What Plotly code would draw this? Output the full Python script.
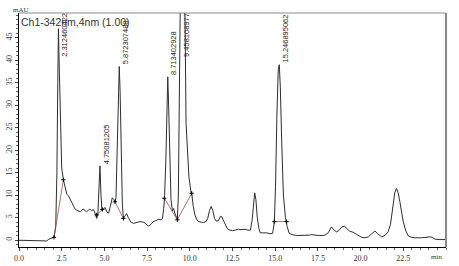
import plotly.graph_objects as go

# chromatogram trace (time in min, absorbance in mAU)
time_min = [0.0, 0.5, 1.0, 1.5, 1.62, 1.75, 1.9, 2.05, 2.15, 2.22, 2.27, 2.31, 2.36, 2.42, 2.5, 2.6,
            2.7, 2.8, 2.9, 3.0, 3.1, 3.2, 3.3, 3.45, 3.6, 3.75, 3.85, 3.95, 4.05, 4.15, 4.25, 4.35,
            4.45, 4.55, 4.62, 4.68, 4.74, 4.8, 4.86, 4.95, 5.05, 5.15, 5.25, 5.35, 5.46, 5.55, 5.62,
            5.68, 5.75, 5.82, 5.87, 5.92, 5.98, 6.05, 6.11, 6.2, 6.3, 6.4, 6.55, 6.7, 6.9, 7.08,
            7.25, 7.38, 7.5, 7.6, 7.75, 7.86, 8.0, 8.16, 8.3, 8.4, 8.47, 8.52, 8.6, 8.66, 8.71,
            8.76, 8.83, 8.9, 8.98, 9.05, 9.12, 9.2, 9.27, 9.33, 9.38, 9.45, 9.62, 9.72, 9.78, 9.85,
            9.95, 10.08, 10.12, 10.2, 10.3, 10.4, 10.5, 10.65, 10.8, 10.95, 11.05, 11.15, 11.25,
            11.35, 11.45, 11.55, 11.67, 11.8, 11.87, 11.95, 12.06, 12.2, 12.35, 12.5, 12.65, 12.84,
            13.0, 13.23, 13.4, 13.55, 13.65, 13.73, 13.8, 13.87, 13.95, 14.05, 14.12, 14.3, 14.5,
            14.7, 14.85, 14.95, 15.02, 15.1, 15.18, 15.24, 15.3, 15.38, 15.48, 15.6, 15.7, 15.82,
            16.0, 16.26, 16.5, 16.74, 17.0, 17.14, 17.35, 17.52, 17.75, 17.92, 18.1, 18.3, 18.45,
            18.6, 18.75, 18.9, 19.05, 19.2, 19.35, 19.57, 19.8, 20.06, 20.25, 20.45, 20.65, 20.84,
            21.0, 21.24, 21.45, 21.62, 21.75, 21.9, 22.0, 22.1, 22.2, 22.3, 22.4, 22.5, 22.65,
            22.8, 23.0, 23.2, 23.58, 23.8, 24.06, 24.2, 24.36, 24.6, 25.0]
signal_mau = [-0.05, -0.1, -0.15, -0.2, -0.2, 0.2, 0.4, 0.6, 3.0, 15.0, 35.0, 47.0, 38.0, 25.0, 16.0, 13.4,
              11.5, 10.2, 9.8, 9.2, 8.3, 7.5, 6.8, 6.5, 6.3, 6.9, 6.5, 6.3, 6.6, 6.9, 6.5, 6.8,
              6.0, 4.8, 6.0, 12.0, 16.5, 10.0, 6.5, 7.0, 7.2, 6.2, 6.0, 7.5, 9.4, 9.0, 8.5,
              9.5, 20.0, 34.0, 38.6, 33.0, 18.0, 8.0, 4.8, 5.5, 5.9, 5.0, 4.0, 3.7, 4.0, 4.1,
              4.0, 3.8, 3.3, 3.1, 3.6, 4.1, 4.3, 4.6, 4.5, 4.8, 7.0, 9.3, 18.0, 30.0, 36.3,
              30.0, 17.0, 9.0, 6.5, 7.0, 6.0, 5.0, 4.6, 10.0, 35.0, 56.0, 56.0, 50.0, 26.0, 21.0,
              14.0, 10.4, 10.2, 7.5, 5.6, 4.6, 4.1, 4.0, 3.9, 4.1, 4.8, 6.5, 7.5,
              6.5, 4.8, 4.2, 4.3, 5.3, 5.2, 4.5, 3.7, 2.5, 2.2, 2.1, 2.2, 2.4,
              2.3, 2.4, 2.2, 2.2, 4.5, 8.5, 10.5, 9.0, 5.0, 2.5, 1.6, 1.6, 1.6,
              1.4, 1.5, 4.0, 12.0, 28.0, 38.0, 39.0, 34.0, 22.0, 10.0, 5.0, 3.0, 1.5,
              1.2, 1.0, 1.0, 1.0, 1.1, 1.2, 1.0, 1.0, 1.0, 1.1, 1.6, 2.9, 2.2,
              1.8, 2.2, 2.9, 3.1, 2.5, 2.0, 1.7, 1.2, 0.6, 0.5, 0.7, 1.4, 2.0,
              1.4, 0.7, 1.1, 1.9, 3.5, 7.5, 10.5, 11.5, 10.5, 8.5, 6.0, 4.0, 2.0,
              0.9, 0.6, 0.5, 0.5, 0.6, 0.7, 0.6, 0.2, 0.1, 0.1]

# integration baselines (None separates segments)
baseline_x = [2.05, 2.6, None, 4.55, 4.88, None, 5.62, 6.11, None, 8.51, 9.27, 10.11, None, 14.95, 15.67]
baseline_y = [0.6, 13.4, None, 5.6, 6.8, None, 8.5, 4.8, None, 9.3, 4.5, 10.4, None, 4.1, 4.1]

# peak labels
peak_times = [2.31, 4.74, 5.87, 8.71, 9.458, 15.24]
peak_heights = [47.0, 16.5, 38.6, 36.3, 56.0, 39.0]
peak_labels = ["2.312460422", "4.75081205", "5.872307488", "8.713402928", "9.458108977", "15.246895062"]

x_ticks = [0, 2.5, 5, 7.5, 10, 12.5, 15, 17.5, 20, 22.5]
x_ticklabels = ["0.0", "2.5", "5.0", "7.5", "10.0", "12.5", "15.0", "17.5", "20.0", "22.5"]
y_ticks = [0, 5, 10, 15, 20, 25, 30, 35, 40, 45]

fig = go.Figure()
fig.add_trace(go.Scatter(x=time_min, y=signal_mau, mode="lines",
                         line=dict(color="#2e2e2e", width=1), hoverinfo="skip"))
fig.add_trace(go.Scatter(x=baseline_x, y=baseline_y, mode="lines+markers",
                         line=dict(color="#9a4a44", width=0.8),
                         marker=dict(symbol="cross-thin", size=3, color="black",
                                     line=dict(color="black", width=1)),
                         hoverinfo="skip"))

for t, h, lab in zip(peak_times, peak_heights, peak_labels):
    fig.add_annotation(x=t, y=min(h, 40.3), text=lab, textangle=-90, showarrow=False,
                       xanchor="left", yanchor="bottom", xshift=0,
                       font=dict(family="Liberation Sans", size=7.5, color="#222"))

fig.add_annotation(x=0, y=1, xref="paper", yref="paper", text="Ch1-342nm,4nm (1.00)",
                   showarrow=False, xanchor="left", yanchor="top", xshift=0, yshift=-1,
                   font=dict(family="Liberation Sans", size=10.5, color="#333"))
fig.add_annotation(x=0, y=1, xref="paper", yref="paper", text="mAU",
                   showarrow=False, xanchor="center", yanchor="bottom", xshift=2, yshift=-3,
                   font=dict(family="Liberation Serif", size=7, color="#333"))
fig.add_annotation(x=1, y=0, xref="paper", yref="paper", text="min",
                   showarrow=False, xanchor="right", yanchor="top", xshift=-2, yshift=-4,
                   font=dict(family="Liberation Serif", size=7, color="#333"))

# gray top and right frame
fig.add_shape(type="line", xref="paper", yref="paper", x0=0, x1=1, y0=1, y1=1,
              line=dict(color="#8a8a8a", width=1))
fig.add_shape(type="line", xref="paper", yref="paper", x0=1, x1=1, y0=0, y1=1,
              line=dict(color="#8a8a8a", width=2))

fig.update_layout(
    width=459, height=266,
    margin=dict(l=19, r=13, t=13, b=19, autoexpand=False),
    paper_bgcolor="white", plot_bgcolor="white",
    showlegend=False,
    xaxis=dict(range=[0, 25], tickvals=x_ticks, ticktext=x_ticklabels, automargin=False,
               showgrid=False, zeroline=False, showline=True, linecolor="black", linewidth=1,
               ticks="outside", ticklen=3, tickcolor="#444",
               minor=dict(dtick=0.5, ticks="outside", ticklen=2, tickcolor="#666"),
               tickfont=dict(family="Liberation Serif", size=8, color="#333")),
    yaxis=dict(range=[-1.55, 50.5], tickvals=y_ticks, tickangle=-90, automargin=False,
               showgrid=False, zeroline=False, showline=True, linecolor="black", linewidth=1,
               ticks="outside", ticklen=3, tickcolor="#444",
               minor=dict(dtick=1, ticks="outside", ticklen=2, tickcolor="#666"),
               tickfont=dict(family="Liberation Serif", size=8, color="#333")),
)

fig.write_html("out.html")
